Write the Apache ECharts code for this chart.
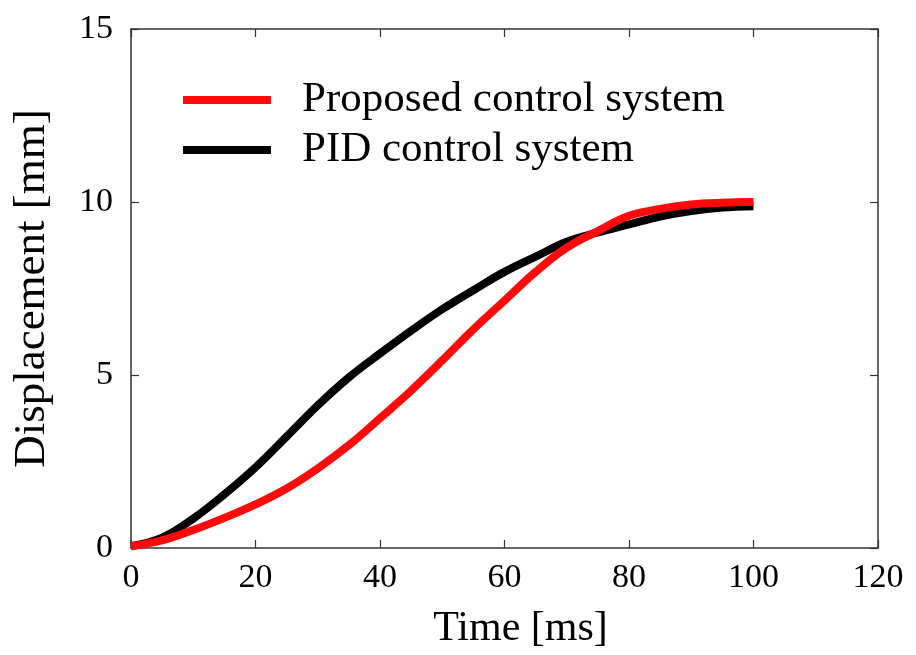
<!DOCTYPE html>
<html>
<head>
<meta charset="utf-8">
<script src="https://cdn.jsdelivr.net/npm/echarts@6/dist/echarts.min.js"></script>
<style>
  html, body { margin: 0; padding: 0; background: #fff; }
  #chart { width: 916px; height: 655px; }
</style>
</head>
<body>
<div id="chart"></div>
<script>
// time axis samples [ms]
const timeMs = [0, 5, 10, 15, 20, 25, 30, 35, 40, 45, 50, 55, 60, 65, 70, 75, 80, 85, 90, 95, 100]
// displacement [mm]
const proposed = [0.05, 0.22, 0.52, 0.87, 1.26, 1.72, 2.3, 2.97, 3.75, 4.55, 5.42, 6.32, 7.15, 7.98, 8.68, 9.16, 9.6, 9.8, 9.93, 9.98, 10.0]
const pid = [0.05, 0.3, 0.85, 1.55, 2.33, 3.22, 4.12, 4.93, 5.62, 6.28, 6.9, 7.45, 7.98, 8.42, 8.85, 9.12, 9.35, 9.58, 9.74, 9.84, 9.88]

const seriesNames = ['Proposed control system', 'PID control system']
const xTicks = [0, 20, 40, 60, 80, 100, 120]
const yTicks = [0, 5, 10, 15]

const FONT = '"Liberation Serif", "DejaVu Serif", serif'
const AXIS_COLOR = '#333'

const chart = echarts.init(document.getElementById('chart'))

const baseAxis = {
  axisLine: { show: true, onZero: false, lineStyle: { color: AXIS_COLOR, width: 1.5 } },
  axisTick: { show: true, inside: true, length: 8, lineStyle: { color: AXIS_COLOR, width: 1.2 } },
  splitLine: { show: false }
}

const toPairs = ys => timeMs.map((t, i) => [t, ys[i]])

chart.setOption({
  animation: false,
  grid: { left: 131, right: 38, top: 29, bottom: 106 },
  legend: {
    left: 183,
    top: 78,
    padding: 0,
    orient: 'vertical',
    itemWidth: 88,
    itemHeight: 8,
    itemGap: 6,
    icon: 'rect',
    data: seriesNames,
    textStyle: { fontFamily: FONT, fontSize: 43, color: '#000', lineHeight: 44, padding: [0, 0, 0, 26] }
  },
  xAxis: [
    {
      ...baseAxis,
      type: 'value',
      min: 0, max: 120, interval: 20,
      name: 'Time [ms]',
      nameLocation: 'middle',
      nameGap: 60,
      nameTextStyle: { fontFamily: FONT, fontSize: 42, color: '#000', padding: [0, 0, 0, 32] },
      axisLabel: { margin: 13, fontFamily: FONT, fontSize: 34, color: '#000', formatter: v => xTicks.includes(v) ? String(v) : '' }
    },
    { ...baseAxis, type: 'value', position: 'top', min: 0, max: 120, interval: 20, axisLabel: { show: false } }
  ],
  yAxis: [
    {
      ...baseAxis,
      type: 'value',
      min: 0, max: 15, interval: 5,
      name: 'Displacement [mm]',
      nameLocation: 'middle',
      nameGap: 76,
      nameTextStyle: { fontFamily: FONT, fontSize: 45, color: '#000' },
      axisLabel: { margin: 18, fontFamily: FONT, fontSize: 34, color: '#000', formatter: v => yTicks.includes(v) ? String(v) : '' }
    },
    { ...baseAxis, type: 'value', position: 'right', min: 0, max: 15, interval: 5, axisLabel: { show: false } }
  ],
  series: [
    {
      name: seriesNames[1],
      type: 'line',
      data: toPairs(pid),
      smooth: 0.4,
      showSymbol: false,
      itemStyle: { color: '#000' },
      lineStyle: { color: '#000', width: 8 },
      z: 2
    },
    {
      name: seriesNames[0],
      type: 'line',
      data: toPairs(proposed),
      smooth: 0.4,
      showSymbol: false,
      itemStyle: { color: '#ff0a0a' },
      lineStyle: { color: '#ff0a0a', width: 8 },
      z: 3
    }
  ]
})
</script>
</body>
</html>
